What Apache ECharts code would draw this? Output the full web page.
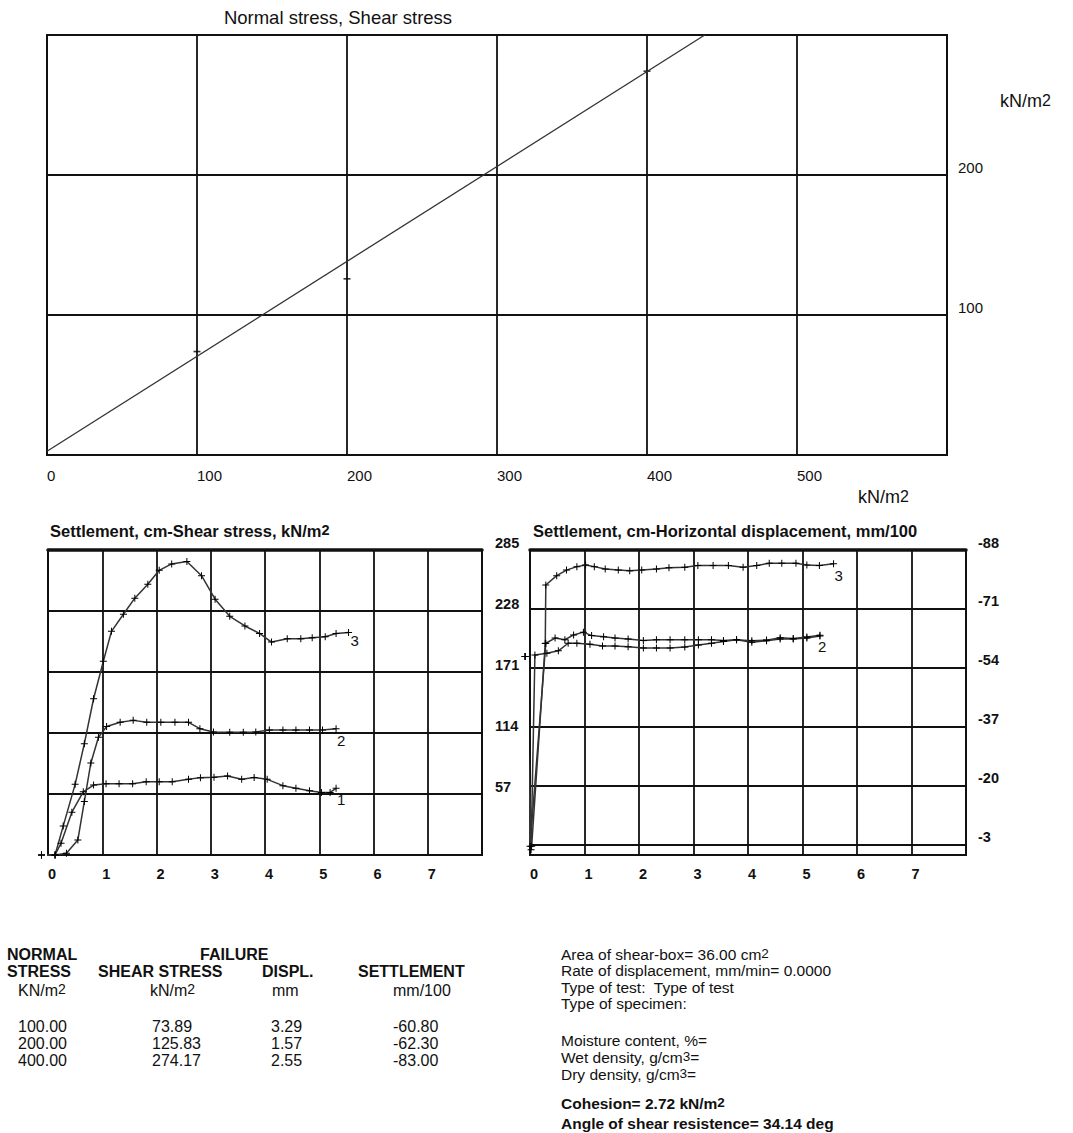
<!DOCTYPE html>
<html><head><meta charset="utf-8">
<script src="https://cdn.jsdelivr.net/npm/echarts@6/dist/echarts.min.js"></script>
<style>html,body{margin:0;padding:0;background:#fff}#c{width:1073px;height:1133px}</style>
</head><body><div id="c"></div>
<script>
// ---------- data ----------
const normalStress   = [100, 200, 400];
const failureShear   = [73.89, 125.83, 274.17];
const failureDispl   = [3.29, 1.57, 2.55];
const failureSettle  = [-60.80, -62.30, -83.00];
const cohesion = 2.72;
const frictionAngle = 34.14;
const envelopeX = [0, 438.5];
const envelopeY = [2.72, 300];

const topXTicks = [0, 100, 200, 300, 400, 500];
const topYTicks = [100, 200];
const dispTicks = [0, 1, 2, 3, 4, 5, 6, 7];
const shearTicks = [57, 114, 171, 228, 285];
const settleTicks = [-88, -71, -54, -37, -20, -3];

const shear1X = [-0.12, 0.13, 0.24, 0.44, 0.65, 0.84, 1.07, 1.31, 1.56, 1.81, 2.05, 2.29, 2.59, 2.81, 3.06, 3.31, 3.57, 3.80, 4.04, 4.33, 4.57, 4.82, 5.04, 5.20, 5.31];
const shear1Y = [0, 0, 11, 40, 59, 65.4, 66.6, 66.6, 66.6, 68.5, 68.5, 68.5, 70.7, 72.3, 72.6, 73.9, 70.7, 72.5, 70.7, 64.8, 62.3, 60, 58.5, 58.5, 62.3];
const shear2X = [-0.12, 0.13, 0.34, 0.55, 0.67, 0.79, 0.93, 1.08, 1.33, 1.57, 1.82, 2.08, 2.34, 2.59, 2.80, 3.05, 3.35, 3.60, 3.83, 4.08, 4.33, 4.57, 4.82, 5.06, 5.31];
const shear2Y = [0, 0, 1.6, 14, 50, 86, 110, 120, 124, 125.8, 124, 124, 124, 124, 118, 115, 114.6, 114.6, 115, 116.8, 116.8, 116.8, 116.8, 116.8, 118];
const shear3X = [-0.12, 0.13, 0.28, 0.50, 0.67, 0.84, 1.02, 1.17, 1.39, 1.60, 1.84, 2.05, 2.28, 2.56, 2.83, 3.08, 3.35, 3.63, 3.90, 4.12, 4.41, 4.66, 4.87, 5.11, 5.31, 5.54];
const shear3Y = [0, 0, 27, 66, 104, 146, 181, 209, 225, 240, 253, 266, 272, 274.2, 261, 239, 223, 214, 207, 199, 202, 202, 203, 204, 207, 208];

const settle1X = [-0.09, 0.02, 0.09, 0.31, 0.52, 0.70, 0.86, 1.10, 1.33, 1.56, 1.80, 2.08, 2.32, 2.57, 2.84, 3.09, 3.33, 3.55, 3.79, 4.07, 4.34, 4.59, 4.83, 5.08, 5.32];
const settle1Y = [-57.3, -1.5, -57.7, -58.2, -58.9, -61.1, -61.1, -60.8, -60.3, -60.3, -60.1, -59.7, -59.7, -59.7, -60.0, -60.6, -61.1, -61.6, -62.1, -61.4, -61.8, -62.3, -62.3, -62.6, -63.2];
const settle2X = [-0.09, 0.0, 0.29, 0.46, 0.64, 0.80, 0.98, 1.13, 1.35, 1.56, 1.80, 2.08, 2.32, 2.57, 2.84, 3.09, 3.33, 3.55, 3.79, 4.07, 4.34, 4.59, 4.83, 5.08, 5.32];
const settle2Y = [-57.3, -2.5, -61.1, -62.6, -62.1, -63.5, -64.3, -63.3, -63.0, -62.6, -62.3, -61.9, -62.1, -62.1, -62.1, -62.1, -62.1, -61.9, -62.1, -61.8, -62.0, -62.7, -62.5, -62.9, -63.4];
const settle3X = [-0.09, 0.03, 0.28, 0.29, 0.49, 0.67, 0.86, 1.02, 1.18, 1.38, 1.62, 1.83, 2.05, 2.32, 2.55, 2.84, 3.08, 3.36, 3.64, 3.91, 4.16, 4.39, 4.62, 4.88, 5.08, 5.31, 5.57];
const settle3Y = [-57.3, -2.5, -61, -77.9, -80.6, -82.2, -83.2, -83.7, -83.2, -82.5, -82.2, -82.0, -82.2, -82.5, -82.9, -83.0, -83.5, -83.5, -83.5, -83.0, -83.5, -84.2, -84.2, -84.2, -83.7, -83.5, -84.0];

// ---------- helpers ----------
const F = '"Liberation Sans", Arial, Helvetica, sans-serif';
const INK = '#111';
const zip = (xs, ys) => xs.map((x, i) => [x, ys[i]]);
const PLUS = 'path://M3,0H4V3H7V4H4V7H3V4H0V3H3Z';

function richStyles(size, weight) {
  return {
    b: {fontFamily: F, fontSize: size, fontWeight: weight, fill: INK, lineHeight: size, verticalAlign: 'middle'},
    s: {fontFamily: F, fontSize: size - 2, fontWeight: weight, fill: INK, lineHeight: 1, verticalAlign: 'top'}
  };
}
// text may contain ^N for a superscript digit
function txt(x, y, text, size, weight, align) {
  weight = weight || 'normal';
  const hasSup = text.indexOf('^') >= 0;
  let t = text;
  if (hasSup) {
    t = text.split(/(\^\d)/).filter(p => p.length).map(p => p[0] === '^' ? '{s|' + p.slice(1) + '}' : '{b|' + p + '}').join('');
  }
  return {
    type: 'text', x: x, y: y, silent: true,
    style: {
      text: t, fill: INK, fontFamily: F, fontSize: size, fontWeight: weight,
      textAlign: align || 'left', textVerticalAlign: 'middle',
      align: align || 'left', verticalAlign: 'middle',
      lineHeight: size,
      rich: hasSup ? richStyles(size, weight) : undefined
    }
  };
}

// ---------- texts ----------
const graphics = [];
graphics.push(txt(338, 17, 'Normal stress, Shear stress', 18.5, 'normal', 'center'));
graphics.push(txt(1000, 101, 'kN/m^2', 18));
graphics.push(txt(858, 497, 'kN/m^2', 18));
graphics.push(txt(50, 531, 'Settlement, cm-Shear stress, kN/m^2', 16.5, 'bold'));
graphics.push(txt(533, 531, 'Settlement, cm-Horizontal displacement, mm/100', 16.5, 'bold'));

// table
const TS = 16;
graphics.push(txt(7, 954, 'NORMAL', TS, 'bold'));
graphics.push(txt(200, 954, 'FAILURE', TS, 'bold'));
graphics.push(txt(7, 971, 'STRESS', TS, 'bold'));
graphics.push(txt(98, 971, 'SHEAR STRESS', TS, 'bold'));
graphics.push(txt(262, 971, 'DISPL.', TS, 'bold'));
graphics.push(txt(358, 971, 'SETTLEMENT', TS, 'bold'));
graphics.push(txt(18, 990, 'KN/m^2', TS));
graphics.push(txt(150, 990, 'kN/m^2', TS));
graphics.push(txt(272, 990, 'mm', TS));
graphics.push(txt(393, 990, 'mm/100', TS));
const rowY = [1026, 1043, 1060];
normalStress.forEach((v, i) => {
  graphics.push(txt(18, rowY[i], v.toFixed(2), TS));
  graphics.push(txt(152, rowY[i], failureShear[i].toFixed(2), TS));
  graphics.push(txt(271, rowY[i], failureDispl[i].toFixed(2), TS));
  graphics.push(txt(393, rowY[i], failureSettle[i].toFixed(2), TS));
});

// info block
const RS = 15.5;
const infoLines = [
  [954, 'Area of shear-box= 36.00 cm^2', 'normal'],
  [970, 'Rate of displacement, mm/min= 0.0000', 'normal'],
  [987, 'Type of test:  Type of test', 'normal'],
  [1003, 'Type of specimen:', 'normal'],
  [1040, 'Moisture content, %=', 'normal'],
  [1057, 'Wet density, g/cm^3=', 'normal'],
  [1074, 'Dry density, g/cm^3=', 'normal'],
  [1103, 'Cohesion= ' + cohesion.toFixed(2) + ' kN/m^2', 'bold'],
  [1123, 'Angle of shear resistence= ' + frictionAngle.toFixed(2) + ' deg', 'bold']
];
infoLines.forEach(l => graphics.push(txt(561, l[0], l[1], RS, l[2])));

// ---------- axes ----------
const gridLine = {show: true, lineStyle: {color: INK, width: 1.8}};
const lowLabel = {fontFamily: F, fontSize: 14.5, fontWeight: 'bold', color: INK};

function lowerX(gi) {
  return {gridIndex: gi, type: 'value', min: 0, max: 8, interval: 1,
    axisLine: {show: false}, axisTick: {show: false}, splitLine: gridLine,
    axisLabel: Object.assign({customValues: dispTicks, align: 'left', margin: 11}, lowLabel)};
}
function topEdge(gi) {
  return {gridIndex: gi, type: 'value', position: 'top', min: 0, max: 8,
    axisLine: {show: true, onZero: false, lineStyle: {color: INK, width: 3.5}},
    axisTick: {show: false}, axisLabel: {show: false}, splitLine: {show: false}};
}

const option = {
  animation: false,
  backgroundColor: '#fff',
  grid: [
    {left: 47, top: 35, width: 900, height: 420, show: true, borderColor: INK, borderWidth: 2},
    {left: 48, top: 550, width: 434, height: 305, show: true, borderColor: INK, borderWidth: 2},
    {left: 530, top: 550, width: 436, height: 305, show: true, borderColor: INK, borderWidth: 2}
  ],
  xAxis: [
    {gridIndex: 0, type: 'value', min: 0, max: 600, interval: 100,
      axisLine: {show: false}, axisTick: {show: false}, splitLine: gridLine,
      axisLabel: {customValues: topXTicks, align: 'left', margin: 13, fontFamily: F, fontSize: 15, color: INK}},
    lowerX(1), lowerX(2), topEdge(1), topEdge(2)
  ],
  yAxis: [
    {gridIndex: 0, type: 'value', position: 'right', min: 0, max: 300, interval: 100,
      axisLine: {show: false}, axisTick: {show: false}, splitLine: gridLine,
      axisLabel: {customValues: topYTicks, align: 'left', verticalAlign: 'bottom', margin: 11, fontFamily: F, fontSize: 15, color: INK}},
    {gridIndex: 1, type: 'value', position: 'right', min: 0, max: 285, interval: 57,
      axisLine: {show: false}, axisTick: {show: false}, splitLine: gridLine,
      axisLabel: Object.assign({customValues: shearTicks, align: 'left', verticalAlign: 'bottom', margin: 13}, lowLabel)},
    {gridIndex: 2, type: 'value', position: 'right', min: -88, max: 0, inverse: true,
      axisLine: {show: false}, axisTick: {show: false, customValues: settleTicks}, splitLine: gridLine,
      axisLabel: Object.assign({customValues: settleTicks, align: 'left', verticalAlign: 'bottom', margin: 12}, lowLabel)}
  ],
  graphic: {elements: graphics},
  series: []
};

option.series.push({type: 'line', xAxisIndex: 0, yAxisIndex: 0, data: zip(envelopeX, envelopeY),
  symbol: 'none', lineStyle: {color: '#333', width: 1.3}, silent: true});
option.series.push({type: 'scatter', xAxisIndex: 0, yAxisIndex: 0, data: zip(normalStress, failureShear),
  symbol: 'rect', symbolSize: [7, 1.6], itemStyle: {color: '#000'}, silent: true});

function curve(xi, yi, xs, ys, name, off) {
  const s = {type: 'line', name: name, xAxisIndex: xi, yAxisIndex: yi, data: zip(xs, ys),
    symbol: PLUS, symbolSize: 7, showAllSymbol: true, clip: false, silent: true,
    lineStyle: {color: '#333', width: 1.5}, itemStyle: {color: '#000'}};
  if (off) s.endLabel = {show: true, formatter: name, distance: 2, offset: off,
    fontFamily: F, fontSize: 15, color: INK};
  return s;
}
option.series.push(curve(1, 1, shear1X, shear1Y, '1', [-1, 11]));
option.series.push(curve(1, 1, shear2X, shear2Y, '2', [-1, 12]));
option.series.push(curve(1, 1, shear3X, shear3Y, '3', [0, 8]));
option.series.push(curve(2, 2, settle1X, settle1Y, '1', null));
option.series.push(curve(2, 2, settle2X, settle2Y, '2', [-4, 11]));
option.series.push(curve(2, 2, settle3X, settle3Y, '3', [-1, 12]));

const chart = echarts.init(document.getElementById('c'), null, {renderer: 'svg'});
chart.setOption(option);
</script></body></html>
